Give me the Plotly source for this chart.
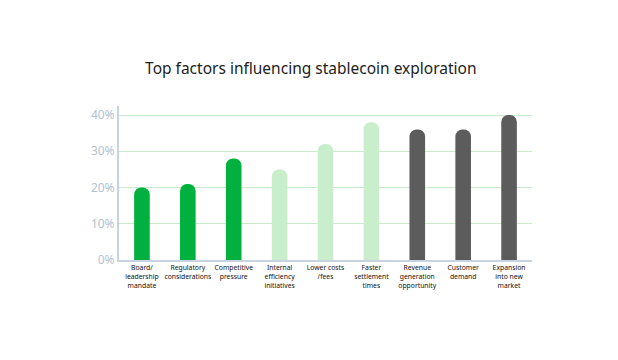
import plotly.graph_objects as go

categories = [
    "Board/<br>leadership<br>mandate",
    "Regulatory<br>considerations",
    "Competitive<br>pressure",
    "Internal<br>efficiency<br>initiatives",
    "Lower costs<br>/fees",
    "Faster<br>settlement<br>times",
    "Revenue<br>generation<br>opportunity",
    "Customer<br>demand",
    "Expansion<br>into new<br>market",
]
values = [20, 21, 28, 25, 32, 38, 36, 36, 40]
colors = ["#00b140", "#00b140", "#00b140",
          "#c8eecb", "#c8eecb", "#c8eecb",
          "#5b5c5b", "#5b5c5b", "#5b5c5b"]
y_ticks = [0, 10, 20, 30, 40]
y_tick_text = ["0%", "10%", "20%", "30%", "40%"]

fig = go.Figure(go.Bar(
    x=categories, y=values,
    marker=dict(color=colors, line=dict(width=0), cornerradius=8),
    width=0.34,
    hoverinfo="skip",
))

fig.update_layout(
    width=618, height=360,
    paper_bgcolor="white", plot_bgcolor="white",
    margin=dict(l=119, r=86, t=106, b=100),
    showlegend=False,
    font=dict(family="Noto Sans", color="#222222"),
    title=dict(text="Top factors influencing stablecoin exploration",
               x=0.503, xanchor="center", y=0.81, yanchor="middle",
               font=dict(size=15.5, color="#222222", family="Noto Sans")),
)
fig.update_yaxes(
    range=[0, 42.5], tickvals=y_ticks, ticktext=y_tick_text,
    showgrid=True, gridcolor="#c8ecca", gridwidth=1,
    zeroline=False,
    showline=True, linecolor="#c9d3dd", linewidth=2,
    tickfont=dict(size=12, color="#b4c3d1"), ticks="", ticklabelstandoff=0,
)
fig.update_xaxes(
    showline=True, linecolor="#c9d3dd", linewidth=2,
    showgrid=False, ticks="",
    tickfont=dict(size=6.8, color="#111111"),
    tickangle=0,
)

fig.write_html("out.html", config={"displayModeBar": False},
               post_script="document.body.style.margin='0';")
